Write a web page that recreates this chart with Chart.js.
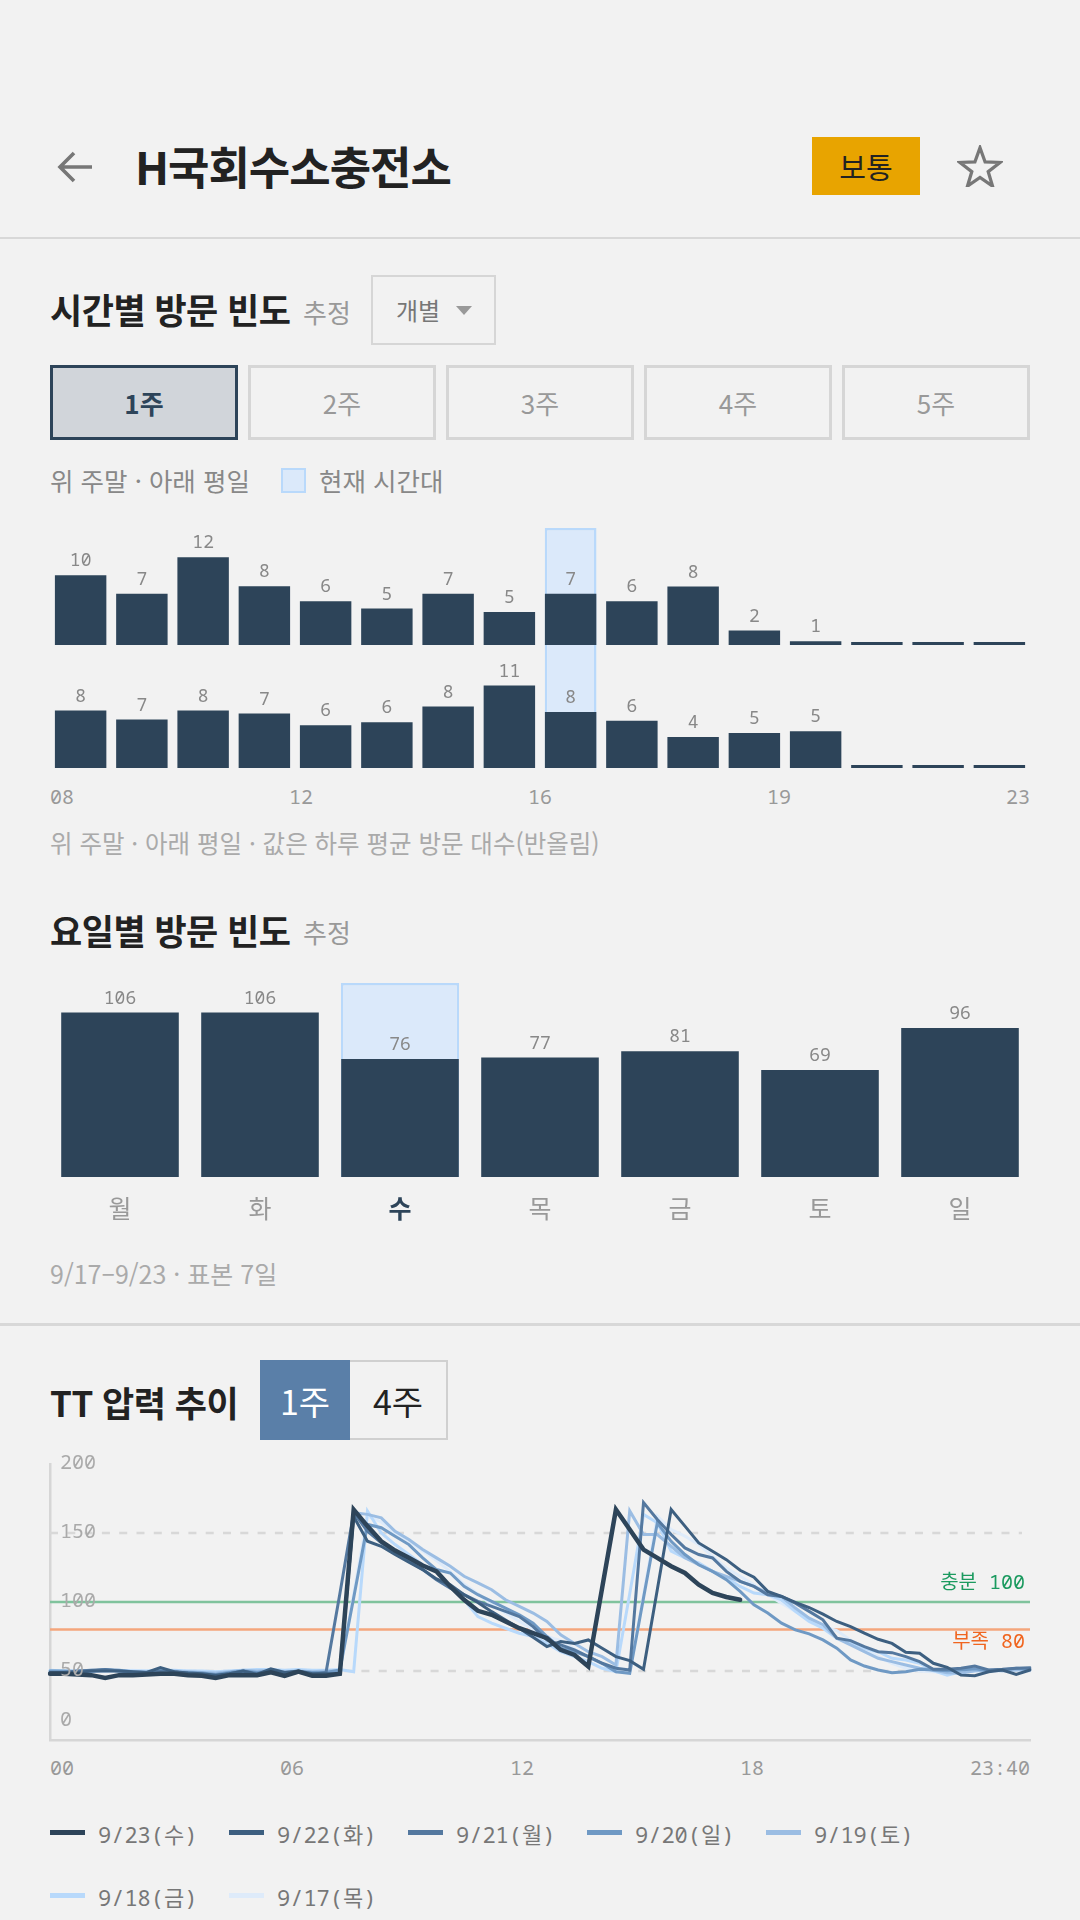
<!DOCTYPE html>
<html lang="ko">
<head>
<meta charset="utf-8">
<title>H국회수소충전소</title>
<script src="https://cdn.jsdelivr.net/npm/chart.js@4/dist/chart.umd.min.js"></script>
<style>
  * { box-sizing: border-box; }
  html, body { margin: 0; padding: 0; background: #f2f2f2; }
  body { position: relative; width: 1080px; height: 1920px; overflow: hidden; font-family: "Noto Sans CJK KR", sans-serif; }
  .abs { position: absolute; }
  .t { position: absolute; transform: translateY(-50%); white-space: nowrap; line-height: 1; }
  .title { font-size: 35px; font-weight: 700; color: #222; letter-spacing: -0.5px; }
  .tag { font-size: 26px; color: #999; }
  .note { font-size: 25.500px; color: #888; }
  .mono { font-family: "Noto Sans Mono", "Noto Sans CJK KR", monospace; }
  .divider { position: absolute; left: 0; width: 1080px; background: #d8d8d8; }
  .tabs { position: absolute; left: 50px; top: 365px; width: 980px; height: 75px; display: flex; justify-content: space-between; }
  .tabs div { width: 188px; border: 3px solid #d6d6d6; color: #999; font-size: 26px; display: flex; align-items: center; justify-content: center; }
  .tabs div.on { background: #d1d5da; border-color: #2d4459; color: #2d4459; font-weight: 700; }
  .ticks { position: absolute; left: 50px; width: 980px; display: flex; justify-content: space-between; font-size: 20px; color: #999; line-height: 1; transform: translateY(-50%); }
  .legend { position: absolute; left: 50px; top: 1801px; width: 980px; display: flex; flex-wrap: wrap; }
  .legend div { width: 179px; height: 63px; display: flex; align-items: center; font-size: 22px; color: #777; white-space: nowrap; }
  .legend i { display: block; width: 35px; height: 5px; margin-right: 13px; }
  canvas { position: absolute; display: block; }
</style>
</head>
<body>
  <svg class="abs" style="left:56px;top:148px" width="38" height="38" viewBox="0 0 38 38" fill="none" stroke="#777" stroke-width="3.6">
    <path d="M36 19H5M18 5 4 19l14 14"/>
  </svg>
  <div class="t" style="left:135px;top:165px;font-size:45px;font-weight:700;color:#222;letter-spacing:-1px">H국회수소충전소</div>
  <div class="abs" style="left:812px;top:137px;width:108px;height:58px;background:#e8a400;color:#222;font-size:29px;display:flex;align-items:center;justify-content:center">보통</div>
  <svg class="abs" style="left:957px;top:145px" width="46" height="42" viewBox="0 0 50 46" fill="none" stroke="#777" stroke-width="3.6" stroke-linejoin="miter">
    <path d="M25 3l5.6 15.6 16.4.5-13 10.1 4.7 15.8L25 35.6 11.300 45l4.700-15.800-13-10.100 16.400-.5z"/>
  </svg>
  <div class="divider" style="top:237px;height:2px"></div>

  <div class="t title" style="left:50px;top:308px">시간별 방문 빈도</div>
  <div class="t tag" style="left:303px;top:312px">추정</div>
  <div class="abs" style="left:371px;top:275px;width:125px;height:70px;border:2.5px solid #d6d6d6"></div>
  <div class="t" style="left:396px;top:310px;font-size:24px;color:#777">개별</div>
  <svg class="abs" style="left:456px;top:306px" width="16" height="9"><path d="M0 0h16L8 9z" fill="#999"/></svg>
  <div class="tabs" id="weekTabs"></div>
  <div class="t note" style="left:50px;top:480px">위 주말 · 아래 평일</div>
  <div class="abs" style="left:281px;top:468px;width:25px;height:25px;background:#dbe9fa;border:2.5px solid #b9d9fb"></div>
  <div class="t note" style="left:319px;top:480px">현재 시간대</div>

  <canvas id="weekendChart" style="left:50px;top:528px" width="980" height="117"></canvas>
  <canvas id="weekdayChart" style="left:50px;top:645px" width="980" height="123"></canvas>
  <div class="ticks mono" id="hourTicks" style="top:797px"></div>
  <div class="t" style="left:50px;top:843px;font-size:24.500px;color:#aaa">위 주말 · 아래 평일 · 값은 하루 평균 방문 대수(반올림)</div>

  <div class="t title" style="left:50px;top:929px">요일별 방문 빈도</div>
  <div class="t tag" style="left:303px;top:932px">추정</div>
  <canvas id="dayChart" style="left:50px;top:980px" width="980" height="245"></canvas>
  <div class="t" style="left:50px;top:1273px;font-size:25px;color:#aaa">9/17–9/23 · 표본 7일</div>
  <div class="divider" style="top:1323px;height:2.5px"></div>

  <div class="t title" style="left:50px;top:1401px">TT 압력 추이</div>
  <div class="abs" style="left:260px;top:1360px;width:90px;height:80px;background:#5a7fa8;color:#fff;font-size:34px;display:flex;align-items:center;justify-content:center">1주</div>
  <div class="abs" style="left:350px;top:1360px;width:98px;height:80px;border:2.5px solid #d0d0d0;border-left:0;color:#222;font-size:34px;display:flex;align-items:center;justify-content:center">4주</div>
  <canvas id="pressureChart" style="left:30px;top:1450px" width="1020" height="300"></canvas>
  <div class="ticks mono" id="timeTicks" style="top:1768px"></div>
  <div class="legend mono" id="pressureLegend"></div>

<script>
const weekTabs = ['1주', '2주', '3주', '4주', '5주'];

// 시간별 방문 빈도
const hours = ['08', '09', '10', '11', '12', '13', '14', '15', '16', '17', '18', '19', '20', '21', '22', '23'];
const hourTicks = ['08', '12', '16', '19', '23'];
const weekendVisits = [9.55, 7, 12, 8.05, 6, 5, 7, 4.5, 7, 6, 8, 2, 0.5, 0, 0, 0];
const weekdayVisits = [7.8, 6.6, 7.8, 7.4, 5.8, 6.2, 8.35, 11.2, 7.6, 6.4, 4.2, 4.75, 5, 0, 0, 0];
const currentHour = '16';

// 요일별 방문 빈도
const days = ['월', '화', '수', '목', '금', '토', '일'];
const dayVisits = [106, 106, 76, 77, 81, 69, 96];
const currentDay = '수';

// TT 압력 추이 (20분 간격, 00:00 - 23:40)
const timeTicks = ['00', '06', '12', '18', '23:40'];
const pressureTicks = [200, 150, 100, 50, 0];
const dashedLevels = [150, 50];
const limitValues = [100, 80];
const limitLabels = ['충분 100', '부족 80'];
const limitColors = ['#80c39d', '#f4a67c'];
const limitTextColors = ['#1b9a5f', '#f0651f'];
const seriesNames = ['9/23(수)', '9/22(화)', '9/21(월)', '9/20(일)', '9/19(토)', '9/18(금)', '9/17(목)'];
const seriesColors = ['#2d4459', '#3d5f80', '#54789f', '#6f99c4', '#9bbde3', '#b8d9fb', '#deebfa'];

const p0923 = [48, 48, 47.5, 47, 45, 47, 47, 47.5, 48, 48, 47, 46.5, 45, 47, 47, 47, 49, 46.5, 49.5, 46.5, 46.5, 48,
  167, 155, 144, 137.3, 132, 126.4, 122.2, 111.3, 101.6, 93.6, 90.7, 85.9, 81, 77.4, 73.8, 65.3, 61.6, 53.2, 110, 167, 152.5, 138, 132, 125.9, 121, 112.5, 106.5, 103.6, 101.6,
  null, null, null, null, null, null, null, null, null, null, null, null, null, null, null, null, null, null, null, null, null];
const p0922 = [49, 49, 49, 50, 50, 50, 49.5, 49, 52.5, 49.5, 48.5, 48, 47, 48, 50, 47.5, 51.5, 49, 50, 48, 48, 48,
  162, 144, 140.4, 134.4, 128.8, 123.5, 116.7, 112.5, 105.3, 99.7, 93, 87, 81, 74.5, 67.7, 71.3, 70, 72.5, 66.5, 60.4, 57.5, 51.2, 109, 167, 155, 142.8, 136.8, 130.7, 123,
  118, 107.7, 104, 99.7, 96, 91.2, 85.9, 82.2, 77.4, 73, 70, 63.6, 62.8, 55.6, 52.7, 47, 46.6, 49.5, 50.7, 47.6, 50.7];
const p0921 = [49, 49, 50, 50.5, 51, 50, 49, 48, 50, 49.5, 48, 47.5, 46.5, 48, 50, 48, 50, 47.5, 49, 47.5, 49, 106,
  164.7, 151.3, 142.8, 135.6, 129.5, 123.5, 116.2, 110.1, 105.3, 100.4, 96.8, 93.2, 89.5, 82.2, 72.5, 68.9, 65.3, 60.4, 55.6, 52, 50.7, 172, 159.8, 148.9, 139.2, 134.4, 131.9, 122.2, 115,
  111.3, 105.3, 104, 99.2, 93.2, 87.1, 73.8, 72, 67.7, 64, 63.3, 60.4, 56.8, 51.2, 51.2, 52, 53.6, 50.7, 51.2, 52, 52.4];
const p0920 = [50, 50, 49.5, 50, 51, 50.5, 49.5, 49, 50, 49, 49, 48.5, 47.5, 49, 50, 49, 50, 48.5, 49.5, 49, 49, 50.7,
  103, 156.2, 153.8, 147.7, 141.6, 132, 123.5, 121, 111.3, 105.3, 100.4, 95.6, 90.7, 84.7, 75, 66.5, 64, 60.4, 55.6, 49.5, 48.3, 103, 157.4, 144, 134.4, 127, 122.2, 116.2, 107.7,
  98, 92, 84.7, 79.8, 76.9, 72.5, 66.5, 58, 53.6, 50.7, 48.8, 49.5, 51.2, 50.7, 50.2, 50.7, 51.7, 50.2, 50.7, 52, 51.2];
const p0919 = [50, 49.5, 50, 49.5, 50.5, 50, 49.5, 49.5, 50, 50, 49.5, 49, 48.5, 49.5, 50.5, 50, 50.5, 49.5, 50, 49.5, 50, 50,
  164.7, 163.5, 161, 151.3, 145.3, 138, 132, 125.9, 118.6, 113.8, 108.9, 101.6, 96.8, 92, 85.9, 76.2, 70, 64, 60.4, 54.4, 166, 148.9, 148.9, 140.4, 132, 127, 122.2, 118.6, 115,
  111.3, 106.5, 104, 95.6, 88.3, 83.5, 73.8, 68.9, 64, 59.2, 56.8, 54.4, 52, 50.7, 48.8, 48.3, 50.2, 50.7, 50.2, 50.7, 51.2];
const p0918 = [50.5, 50, 50, 50.5, 50, 50.5, 50, 50, 50.5, 50.5, 50, 50, 49.5, 50, 50.5, 51, 51, 50.5, 51, 50.5, 50.5, 51,
  49.5, 165.9, 150, 141.6, 134.4, 127, 122.2, 111.3, 101.6, 89.5, 84.7, 81, 77.4, 75, 70, 64, 60.4, 56.8, 52, 49.5, 106, 163.5, 157.4, 136.8, 132, 128.3, 122.2, 117.4, 111.3,
  106.5, 105.3, 101.6, 93.2, 85.9, 81, 73.8, 70, 66.5, 64, 59.2, 58, 55.6, 50.2, 47, 49.5, 50.2, 50.2, 50.7, 51.2, 50.7];
const p0917 = [50, 50, 50.5, 50, 50, 50, 50.5, 50, 50, 50, 50, 49.5, 49.5, 50, 50, 50.5, 50, 50, 50, 50, 50, 50,
  106, 162, 158, 150, 144, 137, 130, 122, 113, 106, 98, 92, 86, 80, 75, 72, 66, 60, 55, 51, 49, 105, 162.2, 152.5, 147.7, 141.6, 133, 124.7, 118.6,
  112.5, 105.3, 99.2, 93.2, 87.1, 82.2, 79.3, 72.5, 66.5, 60.4, 55.6, 52, 50, 49.5, 49, 49, 50, 50, 50, 50.5, 50];
const seriesValues = [p0923, p0922, p0921, p0920, p0919, p0918, p0917];

const darkBar = '#2d4459';
const monoFont = '"Noto Sans Mono", "Noto Sans CJK KR", monospace';

// 막대 위 값 표시
const barValuePlugin = {
    id: 'barValue',
    afterDatasetsDraw(chart) {
        const ctx = chart.ctx;
        const meta = chart.getDatasetMeta(0);
        const data = chart.data.datasets[0].data;
        ctx.save();
        ctx.font = '18px ' + monoFont;
        ctx.fillStyle = '#888';
        ctx.textAlign = 'center';
        ctx.textBaseline = 'middle';
        meta.data.forEach((bar, i) => {
            if (data[i] > 0) ctx.fillText(Math.round(data[i]), bar.x, bar.y - 14);
        });
        ctx.restore();
    }
};

function renderBarChart(canvasId, labels, values, current, maxY, skipEdge, extra) {
    const highlight = labels.map(label => label === current ? maxY : null);
    return new Chart(document.getElementById(canvasId), {
        type: 'bar',
        data: {
            labels: labels,
            datasets: [
                { data: values, backgroundColor: darkBar, order: 1, minBarLength: 3, barPercentage: 0.84, categoryPercentage: 1, grouped: false },
                { data: highlight, backgroundColor: '#dbe9fa', borderColor: '#b9d9fb', borderWidth: 2.5, borderSkipped: skipEdge, order: 2, barPercentage: 0.845, categoryPercentage: 1, grouped: false }
            ]
        },
        options: Object.assign({
            responsive: false,
            animation: false,
            layout: { padding: 0 },
            plugins: { legend: { display: false }, tooltip: { enabled: false } },
            scales: {
                x: { display: false },
                y: { display: false, min: 0, max: maxY }
            }
        }, extra || {}),
        plugins: [barValuePlugin]
    });
}

// 기준선과 y축 값
const pressureLevelsPlugin = {
    id: 'pressureLevels',
    beforeDatasetsDraw(chart) {
        const ctx = chart.ctx;
        const y = chart.scales.y;
        const area = chart.chartArea;
        ctx.save();
        ctx.lineWidth = 2.5;
        ctx.strokeStyle = '#d8d8d8';
        ctx.setLineDash([8, 9.3]);
        dashedLevels.forEach(level => {
            ctx.beginPath();
            ctx.moveTo(area.left, y.getPixelForValue(level));
            ctx.lineTo(area.right - 8, y.getPixelForValue(level));
            ctx.stroke();
        });
        ctx.setLineDash([]);
        limitValues.forEach((level, i) => {
            ctx.strokeStyle = limitColors[i];
            ctx.beginPath();
            ctx.moveTo(area.left, y.getPixelForValue(level));
            ctx.lineTo(area.right, y.getPixelForValue(level));
            ctx.stroke();
        });
        ctx.restore();
    },
    afterDatasetsDraw(chart) {
        const ctx = chart.ctx;
        const y = chart.scales.y;
        const area = chart.chartArea;
        ctx.save();
        ctx.font = '20px ' + monoFont;
        ctx.textBaseline = 'middle';
        ctx.textAlign = 'left';
        ctx.fillStyle = '#aaa';
        pressureTicks.forEach(tick => {
            ctx.fillText(tick, area.left + 10, y.getPixelForValue(tick) + (tick === 0 ? -20 : -1));
        });
        ctx.textAlign = 'right';
        limitValues.forEach((level, i) => {
            ctx.fillStyle = limitTextColors[i];
            ctx.fillText(limitLabels[i], area.right - 5, y.getPixelForValue(level) + (i === 0 ? -19 : 13));
        });
        ctx.restore();
    }
};

function renderPressureChart() {
    const labels = seriesValues[0].map((_, i) => i);
    const datasets = seriesNames.map((name, i) => ({
        label: name,
        data: seriesValues[i],
        borderColor: seriesColors[i],
        borderWidth: i === 0 ? 4.5 : 3,
        borderCapStyle: 'round',
        pointRadius: 0,
        tension: 0,
        spanGaps: false
    }));
    const axisLine = { display: true, color: '#d6d6d6', width: 2.5 };
    return new Chart(document.getElementById('pressureChart'), {
        type: 'line',
        data: { labels: labels, datasets: datasets },
        options: {
            responsive: false,
            animation: false,
            layout: { padding: { left: 20, right: 20, top: 14, bottom: 10 } },
            plugins: { legend: { display: false }, tooltip: { enabled: false } },
            scales: {
                x: { border: axisLine, grid: { display: false, drawTicks: false }, ticks: { display: false } },
                y: { min: 0, max: 200, border: axisLine, grid: { display: false, drawTicks: false }, ticks: { display: false } }
            }
        },
        plugins: [pressureLevelsPlugin]
    });
}

function fillRow(id, items) {
    document.getElementById(id).innerHTML = items.map(item => `<span>${item}</span>`).join('');
}

document.getElementById('weekTabs').innerHTML = weekTabs.map((tab, i) => `<div class="${i === 0 ? 'on' : ''}">${tab}</div>`).join('');
fillRow('hourTicks', hourTicks);
fillRow('timeTicks', timeTicks);
document.getElementById('pressureLegend').innerHTML = seriesNames.map((name, i) =>
    `<div><i style="background:${seriesColors[i]}"></i>${name}</div>`).join('');

renderBarChart('weekendChart', hours, weekendVisits, currentHour, 16, 'bottom');
renderBarChart('weekdayChart', hours, weekdayVisits, currentHour, 16.7, 'top');
renderBarChart('dayChart', days, dayVisits, currentDay, 125, 'bottom', {
    responsive: false,
    animation: false,
    layout: { padding: { top: 3 } },
    plugins: { legend: { display: false }, tooltip: { enabled: false } },
    scales: {
        x: {
            border: { display: false },
            grid: { display: false, drawTicks: false },
            afterFit: scale => { scale.height = 48; },
            ticks: {
                padding: 16,
                maxRotation: 0,
                color: c => days[c.index] === currentDay ? darkBar : '#999',
                font: c => ({ family: '"Noto Sans CJK KR", sans-serif', size: 25, weight: days[c.index] === currentDay ? '700' : '400' })
            }
        },
        y: { display: false, min: 0, max: 125 }
    }
});
renderPressureChart();
</script>
</body>
</html>
